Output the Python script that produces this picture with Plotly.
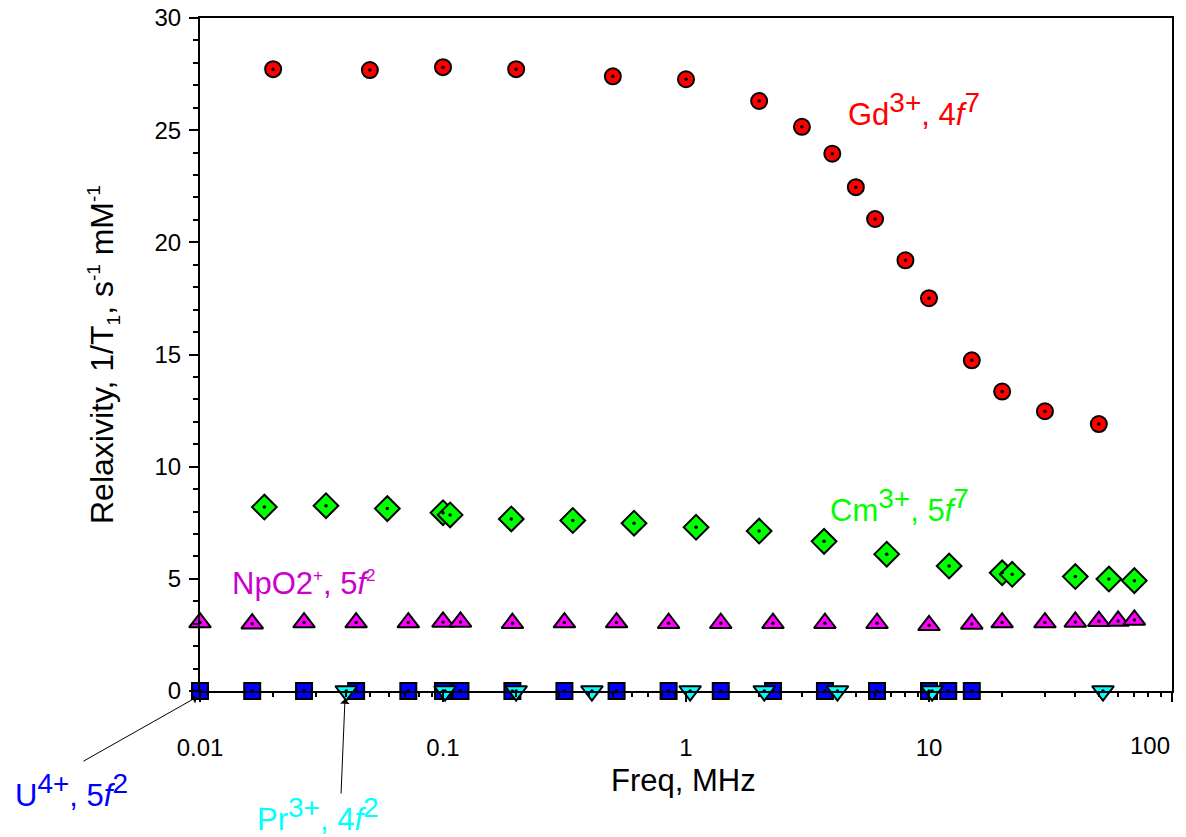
import plotly.graph_objects as go

# ---- data ----
gd_freq = [0.02, 0.05, 0.1, 0.2, 0.5, 1, 2, 3, 4, 5, 6, 8, 10, 15, 20, 30, 50]
gd_relax = [27.72, 27.68, 27.81, 27.72, 27.4, 27.27, 26.3, 25.15, 23.95, 22.46, 21.04, 19.2, 17.51, 14.74, 13.35, 12.47, 11.9]

cm_freq = [0.0184, 0.033, 0.059, 0.1, 0.107, 0.191, 0.342, 0.611, 1.1, 2.0, 3.7, 6.7, 12.1, 20, 22, 40, 55, 70]
cm_relax = [8.2, 8.26, 8.13, 7.95, 7.85, 7.67, 7.6, 7.48, 7.3, 7.13, 6.67, 6.1, 5.57, 5.27, 5.2, 5.1, 4.99, 4.92]

np_freq = [0.01, 0.0164, 0.0268, 0.0439, 0.072, 0.1, 0.118, 0.193, 0.316, 0.518, 0.848,
           1.39, 2.28, 3.73, 6.11, 10, 15, 20, 30, 40, 50, 60, 70]
np_relax = [3.05, 3.0, 3.05, 3.05, 3.05, 3.08, 3.08, 3.02, 3.05, 3.05, 3.02,
            3.02, 3.02, 3.02, 3.02, 2.93, 2.99, 3.05, 3.05, 3.08, 3.11, 3.12, 3.17]

u_freq = [0.01, 0.0164, 0.0268, 0.0439, 0.072, 0.1, 0.118, 0.193, 0.316, 0.518, 0.848,
          1.39, 2.28, 3.73, 6.11, 10, 12, 15]
u_relax = [0] * len(u_freq)

pr_freq = [0.04, 0.102, 0.2, 0.41, 1.04, 2.1, 4.2, 10.3, 52]
pr_relax = [0] * len(pr_freq)

x_tickvals = [0.01, 0.1, 1, 10, 100]
x_ticktext = ["0.01", "0.1", "1", "10", ""]
x_minor = [m * d for d in (0.01, 0.1, 1, 10) for m in range(2, 10)]

FONT = "Arial, Liberation Sans, sans-serif"

fig = go.Figure()

series = [
    (u_freq, u_relax, "square", "#0000ff", 16),
    (pr_freq, pr_relax, "triangle-down", "#00ffff", 19),
    (np_freq, np_relax, "triangle-up", "#ff00ff", 19),
    (cm_freq, cm_relax, "diamond", "#00ff00", 19),
    (gd_freq, gd_relax, "circle", "#ff0000", 16),
]
for xs, ys, sym, col, sz in series:
    fig.add_trace(go.Scatter(
        x=xs, y=ys, mode="markers", cliponaxis=False, showlegend=False,
        marker=dict(symbol=sym, color=col, size=sz, line=dict(color="black", width=2)),
    ))
for xs, ys, sym, col, sz in series:
    fig.add_trace(go.Scatter(
        x=xs, y=ys, mode="markers", cliponaxis=False, showlegend=False, xaxis="x2",
        marker=dict(symbol="circle", color="black", size=3.5, line=dict(width=0)),
    ))

fig.update_layout(
    width=1186, height=837,
    margin=dict(l=200, r=14, t=18, b=146, autoexpand=False),
    paper_bgcolor="white", plot_bgcolor="white",
    font=dict(family=FONT, size=24, color="black"),
    xaxis=dict(
        type="log", range=[-2, 2], tickvals=x_tickvals, ticktext=x_ticktext,
        ticks="outside", ticklen=9, tickwidth=1.5, tickcolor="black",
        showline=True, linecolor="black", linewidth=2, mirror=True,
        showgrid=False, zeroline=False, ticklabelstandoff=25, automargin=False,
        tickfont=dict(size=24),
    ),
    xaxis2=dict(
        type="log", range=[-2, 2], overlaying="x", side="bottom", anchor="y",
        tickvals=x_minor, showticklabels=False, automargin=False,
        ticks="outside", ticklen=5, tickwidth=1.5, tickcolor="black",
        showline=False, showgrid=False, zeroline=False,
    ),
    yaxis=dict(
        range=[0, 30], dtick=5, ticks="outside", ticklen=9, tickwidth=1.5, tickcolor="black",
        showline=True, linecolor="black", linewidth=2, mirror=True,
        showgrid=False, zeroline=False, ticklabelstandoff=3, automargin=False,
        minor=dict(dtick=1, ticks="outside", ticklen=5, tickwidth=1.5, tickcolor="black", showgrid=False),
        tickfont=dict(size=24),
    ),
)

def px(xp):
    return (xp - 200) / 972.0

def py(yp):
    return (691 - yp) / 673.0

S = "<span style='font-size:28px'>%s</span>"
s = "<span style='font-size:17px'>%s</span>"
t = "<span style='font-size:19px'>%s</span>"

annots = [
    dict(text="100", x=px(1150), y=py(745), font=dict(size=24)),
    dict(text="Freq, MHz", x=px(683), y=py(780), font=dict(size=31)),
    dict(text="Relaxivity, 1/T<sub>%s</sub>, s<sup>%s</sup> mM<sup>%s</sup>" % (t % "1", t % "-1", t % "-1"),
         x=px(103), y=py(355), textangle=-90, font=dict(size=32)),
    dict(text="Gd<sup>%s</sup>, 4<i>f</i><sup>%s</sup>" % (S % "3+", S % "7"), x=px(846), y=py(110),
         xanchor="left", font=dict(size=31, color="#ff0000")),
    dict(text="Cm<sup>%s</sup>, 5<i>f</i><sup>%s</sup>" % (S % "3+", S % "7"), x=px(828), y=py(505),
         xanchor="left", font=dict(size=31, color="#00ff00")),
    dict(text="NpO2<sup>%s</sup>, 5<i>f</i><sup>%s</sup>" % (s % "+", s % "2"), x=px(230), y=py(583),
         xanchor="left", font=dict(size=31, color="#cc00cc")),
    dict(text="U<sup>%s</sup>, 5<i>f</i><sup>%s</sup>" % (S % "4+", S % "2"), x=px(13), y=py(790),
         xanchor="left", font=dict(size=31, color="#0000ff")),
    dict(text="Pr<sup>%s</sup>, 4<i>f</i><sup>%s</sup>" % (S % "3+", S % "2"), x=px(255), y=py(814),
         xanchor="left", font=dict(size=31, color="#00ffff")),
]
for a in annots:
    fig.add_annotation(xref="paper", yref="paper", showarrow=False, yanchor="middle",
                       **({"xanchor": "center"} | a))

# arrows
fig.add_annotation(xref="paper", yref="paper", x=px(197), y=py(697), ax=-115, ay=65,
                   showarrow=True, arrowhead=1, arrowsize=1.6, arrowwidth=1, arrowcolor="black", text="")
fig.add_annotation(xref="paper", yref="paper", x=px(345), y=py(699), ax=-4, ay=96,
                   showarrow=True, arrowhead=1, arrowsize=1.6, arrowwidth=1, arrowcolor="black", text="")

fig.write_html("out.html", config={"displayModeBar": False},
               post_script="document.body.style.margin='0px';")
